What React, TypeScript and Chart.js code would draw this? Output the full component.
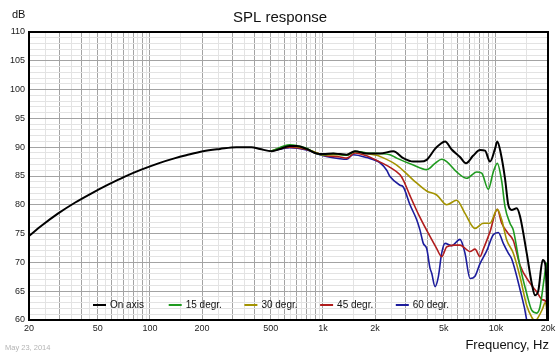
import { useEffect, useRef } from "react";
import { Chart, registerables } from "chart.js";

Chart.register(...registerables);

const FONT = "'Liberation Sans', Arial, Helvetica, sans-serif";

// Axis labels
const X_LABEL_VALUES = [20, 50, 100, 200, 500, 1000, 2000, 5000, 10000, 20000];
const X_LABEL_TEXTS = ["20", "50", "100", "200", "500", "1k", "2k", "5k", "10k", "20k"];
const Y_MIN = 60;
const Y_MAX = 110;

// Series labels and colours
const SERIES_LABELS = ["On axis", "15 degr.", "30 degr.", "45 degr.", "60 degr."];
const SERIES_COLORS = ["#000000", "#1f9a1f", "#a39300", "#b01c1c", "#1c1c9c"];

// On axis
const ON_AXIS_FREQ = [20, 23.7, 29.5, 37, 46, 57.3, 71.6, 89.2, 112, 140, 162, 203, 254, 316, 386, 432, 506, 565, 643, 703, 805, 920, 1005, 1148, 1256, 1372, 1532, 1790, 2138, 2552, 2914, 3330, 3640, 3980, 4447, 4752, 5079, 5550, 6198, 6714, 7372, 8090, 8646, 9240, 9878, 10186, 10658, 11282, 11790, 12336, 13186, 13780, 15064, 16100, 16826, 17580, 18638, 19220, 19658, 20000];
const ON_AXIS_DB = [74.6, 76.4, 78.5, 80.4, 82.0, 83.5, 84.9, 86.1, 87.2, 88.1, 88.6, 89.3, 89.7, 90.0, 90.0, 89.7, 89.3, 89.7, 90.2, 90.2, 89.7, 88.9, 88.8, 88.9, 88.8, 88.7, 89.3, 88.9, 88.9, 89.3, 88.1, 87.5, 87.5, 87.8, 89.7, 90.5, 91.0, 89.6, 88.3, 87.2, 88.5, 89.5, 89.4, 87.5, 89.7, 91.0, 89.0, 84.6, 80.0, 79.1, 79.4, 78.0, 71.6, 66.4, 64.3, 65.1, 70.4, 69.9, 64.6, 50];

// 15 degrees
const DEG15_FREQ = [500, 643, 703, 805, 920, 1005, 1148, 1372, 1532, 1790, 2138, 2442, 2670, 3330, 3980, 4447, 4859, 5194, 5934, 6778, 7742, 8276, 9034, 9656, 10186, 10800, 11282, 12060, 12602, 13780, 15064, 16100, 17210, 17982, 18964, 19658, 20000];
const DEG15_DB = [89.3, 90.4, 90.3, 89.8, 88.9, 88.7, 88.9, 88.6, 89.3, 89.0, 88.9, 88.7, 88.1, 86.9, 86.1, 87.2, 87.9, 87.5, 85.7, 84.6, 85.7, 85.5, 82.7, 85.7, 87.2, 84.1, 79.7, 76.8, 75.6, 69.3, 64.6, 61.7, 61.2, 62.3, 67.0, 69.9, 50];

// 30 degrees
const DEG30_FREQ = [500, 643, 805, 1005, 1372, 1532, 1790, 2045, 2138, 2670, 3330, 3980, 4548, 5194, 5934, 6626, 7568, 8454, 9240, 10186, 10800, 11542, 12602, 13780, 15064, 16100, 16826, 17580, 18638, 19220, 19658, 20000];
const DEG30_DB = [89.3, 90.2, 89.7, 88.7, 88.7, 89.2, 88.9, 88.6, 88.4, 86.9, 84.3, 82.4, 81.7, 80.0, 80.8, 78.5, 75.9, 76.8, 76.8, 79.2, 77.4, 73.9, 71.6, 67.5, 62.5, 60.5, 59.8, 60.5, 62.0, 63.0, 62.0, 50];

// 45 degrees
const DEG45_FREQ = [500, 643, 805, 1005, 1256, 1372, 1532, 1790, 2045, 2442, 2790, 2914, 3186, 3640, 4159, 4548, 4859, 5194, 5750, 6198, 7083, 7568, 8090, 8454, 9240, 10186, 10800, 11790, 12602, 13780, 15740, 17210, 18638, 19658, 20000];
const DEG45_DB = [89.3, 90.0, 89.6, 88.6, 88.3, 88.1, 89.0, 88.5, 87.7, 86.5, 85.2, 84.3, 81.6, 77.8, 74.5, 72.4, 71.0, 72.7, 73.0, 73.0, 71.9, 72.3, 71.0, 72.3, 75.3, 79.2, 76.8, 75.0, 73.8, 69.5, 66.4, 64.9, 63.5, 62.9, 50];

// 60 degrees
const DEG60_FREQ = [500, 643, 805, 1005, 1256, 1372, 1492, 1790, 2138, 2337, 2442, 2790, 2914, 3186, 3484, 3640, 3804, 3980, 4159, 4255, 4447, 4646, 4859, 5079, 5550, 6198, 6626, 7083, 7568, 8090, 8844, 9656, 10322, 11030, 11790, 12336, 13780, 15064, 15740];
const DEG60_DB = [89.3, 89.9, 89.5, 88.5, 88.0, 87.9, 88.7, 88.2, 87.3, 86.0, 84.9, 83.4, 83.1, 80.0, 77.4, 75.6, 73.3, 72.4, 69.0, 68.1, 65.8, 67.5, 71.6, 73.3, 72.9, 74.0, 71.6, 67.2, 67.6, 69.8, 72.0, 74.8, 75.2, 73.3, 71.6, 70.6, 65.3, 60.0, 55];

const SERIES_FREQS = [ON_AXIS_FREQ, DEG15_FREQ, DEG30_FREQ, DEG45_FREQ, DEG60_FREQ];
const SERIES_DBS = [ON_AXIS_DB, DEG15_DB, DEG30_DB, DEG45_DB, DEG60_DB];

// grid lines on the log axis: every 0.5 step of the mantissa
function buildGridFreqs(): number[] {
  const out: number[] = [];
  for (const dec of [10, 100, 1000, 10000]) {
    for (let m = 1; m < 10; m += 0.5) {
      const v = m * dec;
      if (v >= 20 && v <= 20000) out.push(v);
    }
  }
  out.push(20000);
  return Array.from(new Set(out));
}
const GRID_FREQS = buildGridFreqs();

function isMajorFreq(v: number): boolean {
  const mant = v / Math.pow(10, Math.floor(Math.log10(v) + 1e-9));
  return Math.abs(mant - Math.round(mant)) < 1e-6;
}

const MAJOR_GRID = "#a3a3a3";
const MINOR_GRID = "#e3e3e3";

const decorPlugin = {
  id: "decor",
  afterDatasetsDraw(chart: any) {
    const { ctx, chartArea: a } = chart;
    ctx.save();
    // frame
    ctx.strokeStyle = "#000";
    ctx.lineWidth = 2;
    ctx.strokeRect(a.left, a.top, a.right - a.left, a.bottom - a.top);
    // legend
    const ly = 305;
    const startX = 93;
    const step = 75.7;
    ctx.font = `10px ${FONT}`;
    ctx.textBaseline = "middle";
    ctx.textAlign = "left";
    chart.data.datasets.forEach((ds: any, i: number) => {
      const x = startX + i * step;
      ctx.strokeStyle = ds.borderColor;
      ctx.lineWidth = 2;
      ctx.beginPath();
      ctx.moveTo(x, ly);
      ctx.lineTo(x + 13, ly);
      ctx.stroke();
      ctx.fillStyle = "#111";
      ctx.fillText(ds.label, x + 17, ly);
    });
    ctx.restore();
  },
  afterDraw(chart: any) {
    const { ctx } = chart;
    ctx.save();
    ctx.fillStyle = "#111";
    ctx.textBaseline = "middle";
    ctx.textAlign = "center";
    ctx.font = `15px ${FONT}`;
    ctx.fillText("SPL response", 280, 18);
    ctx.textAlign = "left";
    ctx.font = `11px ${FONT}`;
    ctx.fillText("dB", 12, 15);
    ctx.textAlign = "right";
    ctx.font = `13px ${FONT}`;
    ctx.fillText("Frequency, Hz", 549, 345);
    ctx.textAlign = "left";
    ctx.font = `7.5px ${FONT}`;
    ctx.fillStyle = "#b4b4b4";
    ctx.fillText("May 23, 2014", 5, 348);
    ctx.restore();
  },
};

export default function App() {
  const canvasRef = useRef<HTMLCanvasElement | null>(null);

  useEffect(() => {
    document.body.style.margin = "0";
    const canvas = canvasRef.current;
    if (!canvas) return;

    const datasets = SERIES_LABELS.map((label, i) => {
      const f = SERIES_FREQS[i];
      const d = SERIES_DBS[i];
      const n = Math.min(f.length, d.length);
      const data = [] as { x: number; y: number }[];
      for (let k = 0; k < n; k++) data.push({ x: f[k], y: d[k] });
      return {
        label,
        data,
        borderColor: SERIES_COLORS[i],
        backgroundColor: SERIES_COLORS[i],
        borderWidth: i === 0 ? 2 : 1.6,
        pointRadius: 0,
        cubicInterpolationMode: "monotone",
        fill: false,
      };
    });

    const chart = new Chart(canvas, {
      type: "line",
      data: { datasets },
      plugins: [decorPlugin],
      options: {
        animation: false,
        responsive: false,
        devicePixelRatio: 1,
        parsing: false as any,
        layout: { padding: { top: 32, right: 12, left: 0, bottom: 0 } },
        plugins: {
          legend: { display: false },
          title: { display: false },
          tooltip: { enabled: false },
        },
        scales: {
          x: {
            type: "logarithmic",
            min: 20,
            max: 20000,
            afterBuildTicks: (scale: any) => {
              scale.ticks = GRID_FREQS.map((v) => ({ value: v }));
            },
            afterFit: (scale: any) => {
              scale.height = 36;
            },
            border: { display: false },
            grid: {
              drawTicks: false,
              lineWidth: 1,
              color: (c: any) => (c.tick && isMajorFreq(c.tick.value) ? MAJOR_GRID : MINOR_GRID),
            },
            ticks: {
              autoSkip: false,
              maxRotation: 0,
              padding: 3,
              color: "#222",
              font: { family: FONT, size: 9 },
              callback: (v: any) => {
                const idx = X_LABEL_VALUES.findIndex((x) => Math.abs(x - Number(v)) < 1e-6);
                return idx >= 0 ? X_LABEL_TEXTS[idx] : "";
              },
            },
          },
          y: {
            type: "linear",
            min: Y_MIN,
            max: Y_MAX,
            afterFit: (scale: any) => {
              scale.width = 29;
            },
            border: { display: false },
            grid: {
              drawTicks: false,
              lineWidth: 1,
              color: (c: any) => (c.tick && Math.round(c.tick.value) % 5 === 0 ? MAJOR_GRID : MINOR_GRID),
            },
            ticks: {
              stepSize: 1,
              autoSkip: false,
              padding: 4,
              color: "#222",
              font: { family: FONT, size: 9 },
              callback: (v: any) => (Math.round(Number(v)) % 5 === 0 ? String(v) : ""),
            },
          },
        },
      } as any,
    });

    return () => chart.destroy();
  }, []);

  return (
    <div style={{ width: 560, height: 356, background: "#fff" }}>
      <canvas ref={canvasRef} width={560} height={356} style={{ display: "block" }} />
    </div>
  );
}
